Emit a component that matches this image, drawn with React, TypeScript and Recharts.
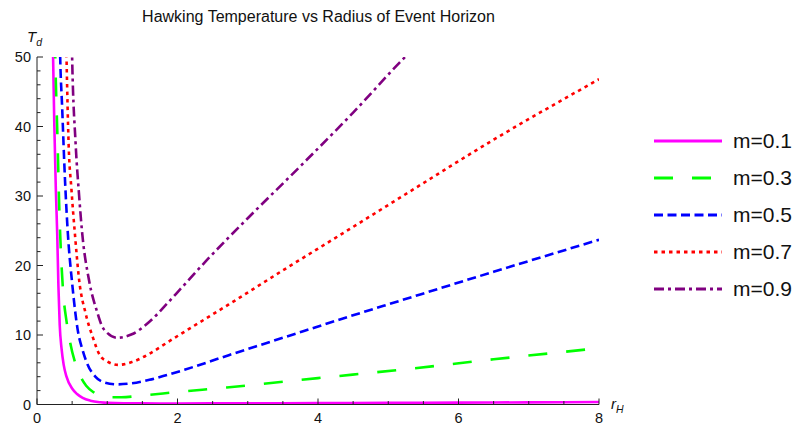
import React from 'react'
import { LineChart, Line, XAxis, YAxis, Legend } from 'recharts'

// values (r_H, T_d)
const m01R = [0.215, 0.229, 0.247, 0.268, 0.288, 0.305, 0.323, 0.35, 0.38, 0.42, 0.5, 0.57, 0.65, 0.76, 0.9, 1, 1.5, 2, 3, 4, 5, 6, 7, 8]
const m01T = [58, 50, 40, 31, 24.5, 17, 11.5, 8, 5.7, 4, 2.3, 1.5, 0.95, 0.55, 0.32, 0.24, 0.16, 0.15, 0.17, 0.2, 0.23, 0.27, 0.31, 0.35]

const m03R = [0.245, 0.26, 0.295, 0.315, 0.33, 0.37, 0.42, 0.47, 0.55, 0.62, 0.7, 0.8, 0.9, 1.05, 1.2, 1.5, 2, 2.7, 4, 5.36, 6.5, 8]
const m03T = [58, 50, 37, 29, 24.5, 16.5, 12, 9, 5.8, 4, 2.7, 1.8, 1.3, 1.05, 1.05, 1.3, 1.8, 2.45, 3.8, 5.2, 6.5, 8.1]

const m05R = [0.315, 0.33, 0.357, 0.4, 0.44, 0.5, 0.58, 0.65, 0.71, 0.83, 0.95, 1.14, 1.35, 1.6, 1.85, 2.1, 2.73, 3.5, 4.3, 5.19, 6.5, 8]
const m05T = [58, 50, 43, 32, 24.5, 17.5, 10.7, 7.8, 6, 4, 3.2, 2.9, 3.05, 3.55, 4.25, 5, 7.1, 9.6, 12.2, 15, 19.1, 23.7]

const m07R = [0.405, 0.42, 0.45, 0.49, 0.54, 0.6, 0.69, 0.79, 0.9, 1, 1.16, 1.35, 1.6, 1.85, 2.04, 2.73, 3.5, 4.3, 5.19, 6.5, 8]
const m07T = [58, 50, 37.5, 31, 24.5, 17.9, 13.2, 9.8, 7, 6.2, 5.7, 6.1, 7.3, 8.9, 10.1, 14.4, 19.3, 24.3, 29.9, 38.1, 46.8]

const m09R = [0.485, 0.5, 0.55, 0.6, 0.64, 0.74, 0.86, 0.92, 1, 1.14, 1.35, 1.6, 1.85, 2.04, 2.42, 3, 3.76, 4.5, 5.24, 5.32]
const m09T = [58, 50, 37.5, 30, 25, 17.9, 13.2, 11.4, 10.3, 9.6, 10.1, 11.9, 14.5, 16.6, 20.8, 26.8, 34.4, 42, 50, 50.8]

const seriesNames = ['m=0.1', 'm=0.3', 'm=0.5', 'm=0.7', 'm=0.9']

const xTicks = [0, 0.5, 1, 1.5, 2, 2.5, 3, 3.5, 4, 4.5, 5, 5.5, 6, 6.5, 7, 7.5, 8]
const yTicks = [0, 2, 4, 6, 8, 10, 12, 14, 16, 18, 20, 22, 24, 26, 28, 30, 32, 34, 36, 38, 40, 42, 44, 46, 48, 50]

const toPoints = (rs: number[], ts: number[]) => rs.map((r, i) => ({ r, t: ts[i] }))

const series = [
  { name: seriesNames[0], color: '#ff00ff', dash: undefined, data: toPoints(m01R, m01T) },
  { name: seriesNames[1], color: '#00ff00', dash: '19 19', data: toPoints(m03R, m03T) },
  { name: seriesNames[2], color: '#0000ff', dash: '9 4.5', data: toPoints(m05R, m05T) },
  { name: seriesNames[3], color: '#ff0000', dash: '3.5 4', data: toPoints(m07R, m07T) },
  { name: seriesNames[4], color: '#800080', dash: '10 4 3 4', data: toPoints(m09R, m09T) },
]

const font = '"Liberation Sans", Arial, sans-serif'
const axisColor = '#222'

const XTick = (props: any) => {
  const { x, y, payload } = props
  const major = payload.value % 2 === 0
  return (
    <g>
      <line x1={x} y1={y} x2={x} y2={y - (major ? 6 : 3.5)} stroke={axisColor} strokeWidth={1} />
      {major && (
        <text x={x} y={y + 18} textAnchor="middle" fontSize={14.5} fontFamily={font} fill="#111">
          {payload.value}
        </text>
      )}
    </g>
  )
}

const YTick = (props: any) => {
  const { x, y, payload } = props
  const major = payload.value % 10 === 0
  return (
    <g>
      <line x1={x} y1={y} x2={x + (major ? 6 : 3.5)} y2={y} stroke={axisColor} strokeWidth={1} />
      {major && (
        <text x={x - 6} y={y + 5} textAnchor="end" fontSize={14.5} fontFamily={font} fill="#111">
          {payload.value}
        </text>
      )}
    </g>
  )
}

const renderLegend = () => (
  <div style={{ fontFamily: font }}>
    {series.map(s => (
      <div key={s.name} style={{ height: 37, display: 'flex', alignItems: 'center' }}>
        <svg width={72} height={10} style={{ display: 'block' }}>
          <line x1={2} y1={5} x2={70} y2={5} stroke={s.color} strokeWidth={3} strokeDasharray={s.dash} />
        </svg>
        <span style={{ fontSize: 21, color: '#111', marginLeft: 9, lineHeight: '21px' }}>{s.name}</span>
      </div>
    ))}
  </div>
)

export default function App() {
  return (
    <div style={{ position: 'absolute', left: 0, top: 0, width: 797, height: 425, background: '#fff' }}>
      <div
        style={{
          position: 'absolute',
          left: 37,
          width: 563,
          top: 8,
          textAlign: 'center',
          fontFamily: font,
          fontSize: 16,
          color: '#111',
        }}
      >
        Hawking Temperature vs Radius of Event Horizon
      </div>
      <div style={{ position: 'absolute', left: 27, top: 28, fontFamily: font, fontStyle: 'italic', fontSize: 15, color: '#111' }}>
        T<sub style={{ fontSize: 10.5 }}>d</sub>
      </div>
      <div style={{ position: 'absolute', left: 611, top: 395, fontFamily: font, fontStyle: 'italic', fontSize: 15, color: '#111' }}>
        r<sub style={{ fontSize: 10.5 }}>H</sub>
      </div>
      <LineChart width={797} height={425} margin={{ top: 57, right: 198, left: 7, bottom: 0.5 }}>
        <XAxis
          type="number"
          dataKey="r"
          domain={[0, 8]}
          ticks={xTicks}
          interval={0}
          allowDataOverflow
          height={20}
          tickSize={0}
          tickMargin={0}
          tickLine={false}
          axisLine={{ stroke: axisColor }}
          tick={<XTick />}
        />
        <YAxis
          type="number"
          domain={[0, 50]}
          ticks={yTicks}
          interval={0}
          allowDataOverflow
          width={30}
          tickSize={0}
          tickMargin={0}
          tickLine={false}
          axisLine={{ stroke: axisColor }}
          tick={<YTick />}
        />
        <Legend
          layout="vertical"
          align="center"
          verticalAlign="middle"
          content={renderLegend}
          wrapperStyle={{ left: 652, top: 122, width: 145 }}
        />
        {series.map(s => (
          <Line
            key={s.name}
            name={s.name}
            data={s.data}
            dataKey="t"
            type="monotone"
            stroke={s.color}
            strokeWidth={2.6}
            strokeDasharray={s.dash}
            dot={false}
            activeDot={false}
            isAnimationActive={false}
          />
        ))}
      </LineChart>
    </div>
  )
}
